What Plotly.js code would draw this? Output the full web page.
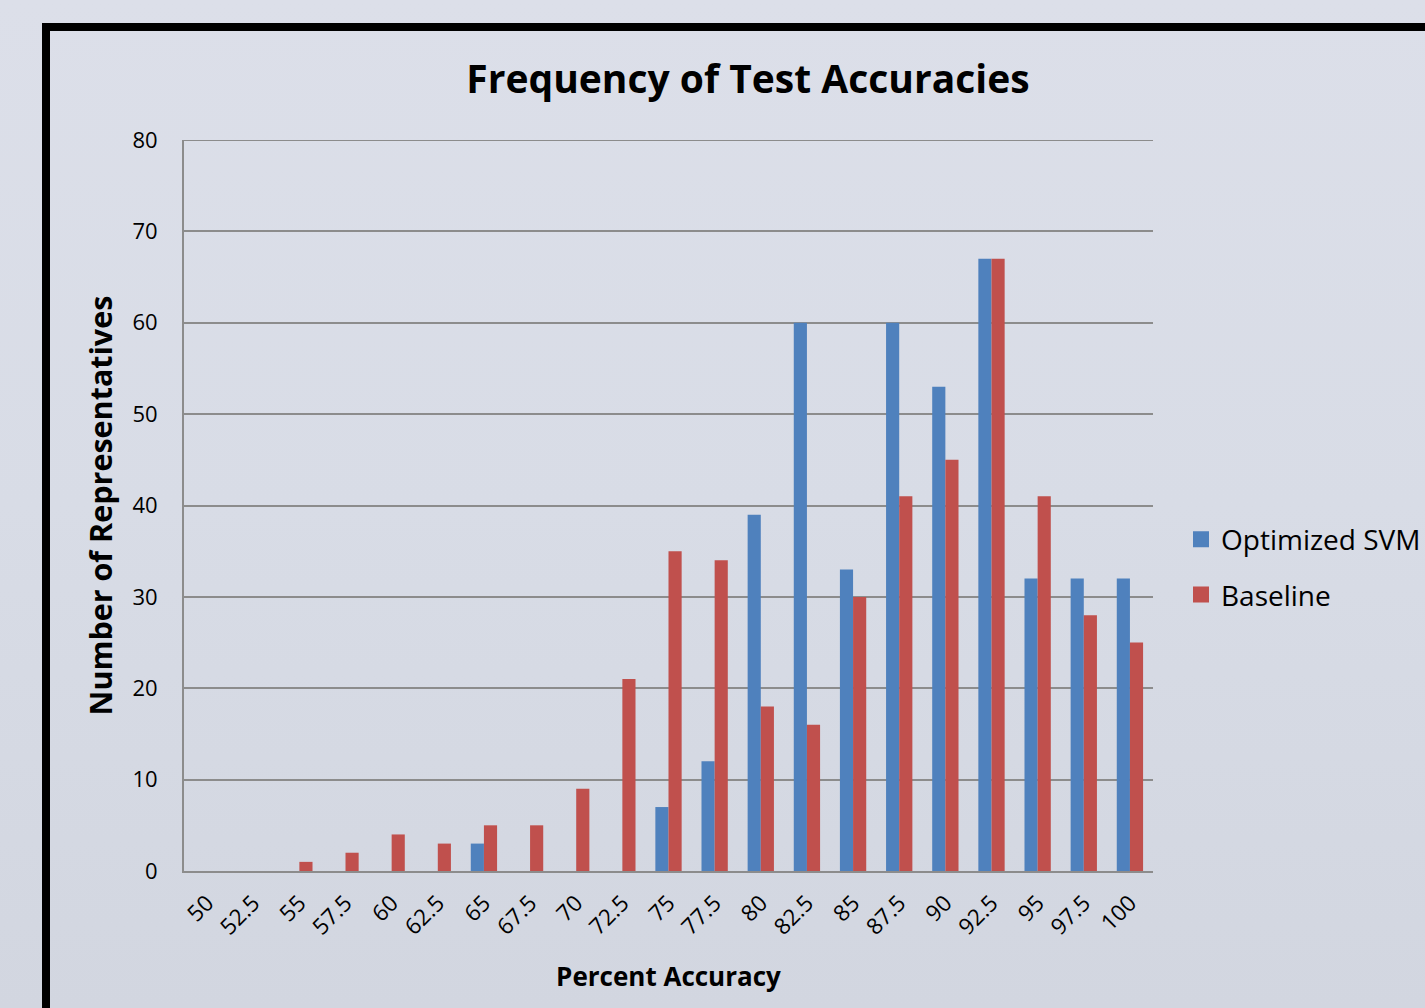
<!DOCTYPE html>
<html>
<head>
<meta charset="utf-8">
<script src="https://cdn.plot.ly/plotly-3.0.1.min.js"></script>
<style>
html, body { margin:0; padding:0; width:1425px; height:1008px; overflow:hidden;
  background: linear-gradient(to bottom, #dcdfe9 0%, #d8dce6 50%, #d2d6e0 100%); }
#chart { width:1425px; height:1008px; }
</style>
</head>
<body>
<div id="chart"></div>
<script>
const categories = ["50","52.5","55","57.5","60","62.5","65","67.5","70","72.5","75","77.5","80","82.5","85","87.5","90","92.5","95","97.5","100"];
const optimizedSVM = [0,0,0,0,0,0,3,0,0,0,7,12,39,60,33,60,53,67,32,32,32];
const baseline = [0,0,1,2,4,3,5,5,9,21,35,34,18,16,30,41,45,67,41,28,25];
const yTicks = [0,10,20,30,40,50,60,70,80];
const seriesNames = ["Optimized SVM", "Baseline"];
const seriesColors = ["#4f81bd", "#c0504d"];

const FONT = "Open Sans, Lato, DejaVu Sans, sans-serif";

const traces = [
  { type:"bar", name:seriesNames[0], x:categories, y:optimizedSVM, showlegend:false,
    marker:{color:seriesColors[0]}, hoverinfo:"x+y+name" },
  { type:"bar", name:seriesNames[1], x:categories, y:baseline, showlegend:false,
    marker:{color:seriesColors[1]}, hoverinfo:"x+y+name" },
  // legend entries with larger square swatches
  { type:"scatter", mode:"markers", name:seriesNames[0], x:[null], y:[null], legendgroup:"a",
    marker:{symbol:"square", size:17, color:seriesColors[0]}, hoverinfo:"skip" },
  { type:"scatter", mode:"markers", name:seriesNames[1], x:[null], y:[null], legendgroup:"b",
    marker:{symbol:"square", size:17, color:seriesColors[1]}, hoverinfo:"skip" }
];

const L = 184, R = 1153, T = 140, B = 871;
const pw = R - L, ph = B - T;
const fx = px => (px - L) / pw;
const fy = py => (B - py) / ph;

const layout = {
  width:1425, height:1008,
  margin:{l:L, r:1425-R, t:T, b:1008-B, pad:0, autoexpand:false},
  paper_bgcolor:"rgba(0,0,0,0)",
  plot_bgcolor:"rgba(0,0,0,0)",
  font:{family:FONT, color:"#000"},
  barmode:"group", bargap:0.43, bargroupgap:0,
  showlegend:true,
  title:{text:"<b>Frequency of Test Accuracies</b>", font:{size:39, family:FONT, color:"#000"},
    x:748/1425, xanchor:"center", xref:"container", y:1-79/1008, yanchor:"middle", yref:"container"},
  xaxis:{type:"category", categoryarray:categories, categoryorder:"array",
    range:[-0.5, categories.length-0.5],
    tickangle:-45, tickfont:{size:22.5, family:FONT}, ticklabelstandoff:8,
    showgrid:false, showline:true, linecolor:"#8c8c8c", linewidth:2, ticks:"",
    title:{text:"<b>Percent Accuracy</b>", font:{size:26, family:FONT}, standoff:28},
    automargin:false, fixedrange:true},
  yaxis:{range:[0,80], tickvals:yTicks, tickfont:{size:22, family:FONT},
    showgrid:true, gridcolor:"#8c8c8c", gridwidth:2, zeroline:false,
    showline:true, linecolor:"#8c8c8c", linewidth:2, ticks:"", ticklen:0,
    ticklabelstandoff:20,
    title:{text:"<b>Number of Representatives</b>", font:{size:30.5, family:FONT}, standoff:11},
    automargin:false, fixedrange:true},
  legend:{x:fx(1181), xanchor:"left", y:fy(567), yanchor:"middle", traceorder:"grouped",
    font:{size:28, family:FONT}, bgcolor:"rgba(0,0,0,0)", tracegroupgap:16, itemclick:false},
  shapes:[
    {type:"line", xref:"paper", yref:"y", x0:0, x1:1, y0:80, y1:80,
     line:{color:"#8c8c8c", width:2}},
    {type:"rect", xref:"paper", yref:"paper",
     x0:fx(46), x1:fx(1500), y0:fy(1100), y1:fy(27),
     line:{color:"#000", width:8}, fillcolor:"rgba(0,0,0,0)", layer:"below"}
  ]
};

Plotly.newPlot("chart", traces, layout, {displayModeBar:false, staticPlot:true});
</script>
</body>
</html>
